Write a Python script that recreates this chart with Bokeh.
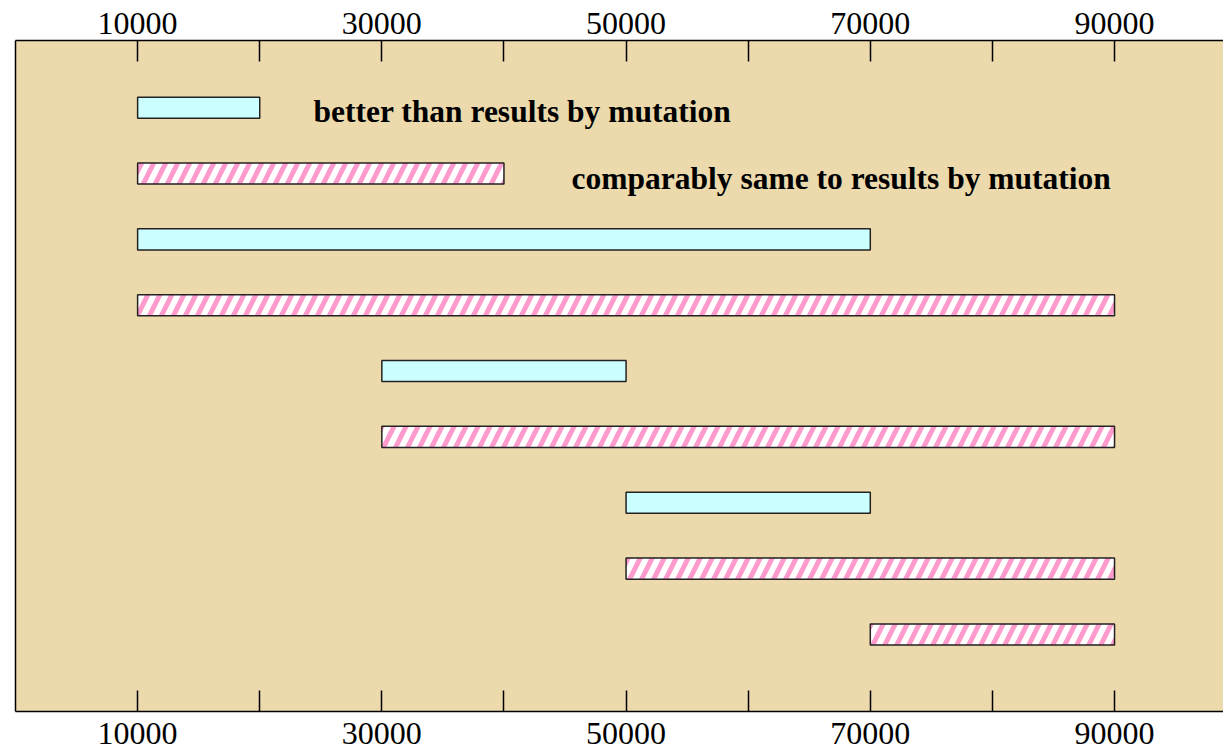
from bokeh.plotting import figure
from bokeh.models import Range1d, LinearAxis, FixedTicker, Label, ColumnDataSource
from bokeh.embed import file_html
from bokeh.resources import INLINE

# Data
rows = [1, 2, 3, 4, 5, 6, 7, 8, 9]
starts = [10000, 10000, 10000, 10000, 30000, 30000, 50000, 50000, 70000]
ends = [20000, 40000, 70000, 90000, 50000, 90000, 70000, 90000, 90000]
kinds = ["better", "same", "better", "same", "better", "same", "better", "same", "same"]
major_ticks = [10000, 30000, 50000, 70000, 90000]
minor_ticks = [20000, 40000, 60000, 80000]
label_better = "better than results by mutation"
label_same = "comparably same to results by mutation"

FONT = "Liberation Serif"

p = figure(width=1223, height=749, output_backend="svg", toolbar_location=None,
           x_range=Range1d(0, 98924), y_range=Range1d(10.17, -0.02),
           x_axis_location=None, y_axis_location=None,
           min_border_left=15, min_border_right=0, min_border_top=40, min_border_bottom=38)
p.background_fill_color = "#ECDAAC"
p.border_fill_color = "white"
p.outline_line_color = None
p.grid.visible = False

def make_axis():
    ax = LinearAxis(ticker=FixedTicker(ticks=major_ticks, minor_ticks=minor_ticks))
    ax.major_tick_in = 21
    ax.major_tick_out = 0
    ax.minor_tick_in = 21
    ax.minor_tick_out = 0
    ax.major_tick_line_color = "black"
    ax.minor_tick_line_color = "black"
    ax.major_tick_line_width = 1.5
    ax.minor_tick_line_width = 1.5
    ax.axis_line_color = "black"
    ax.axis_line_width = 1.5
    ax.major_label_text_font = FONT
    ax.major_label_text_font_size = "32px"
    ax.major_label_text_color = "black"
    return ax

top = make_axis()
top.major_label_standoff = 7
bottom = make_axis()
bottom.major_label_standoff = 11
p.add_layout(top, "above")
p.add_layout(bottom, "below")

left = LinearAxis(ticker=FixedTicker(ticks=[]))
left.axis_line_color = "black"
left.axis_line_width = 1.5
left.major_tick_line_color = None
left.minor_tick_line_color = None
left.major_label_text_font_size = "0px"
p.add_layout(left, "left")

better = ColumnDataSource(dict(
    y=[r for r, k in zip(rows, kinds) if k == "better"],
    left=[s for s, k in zip(starts, kinds) if k == "better"],
    right=[e for e, k in zip(ends, kinds) if k == "better"],
))
same = ColumnDataSource(dict(
    y=[r for r, k in zip(rows, kinds) if k == "same"],
    left=[s for s, k in zip(starts, kinds) if k == "same"],
    right=[e for e, k in zip(ends, kinds) if k == "same"],
))

p.hbar(y="y", left="left", right="right", height=0.32, source=better,
       fill_color="#CCFFFF", line_color="#222222", line_width=1.5)
p.hbar(y="y", left="left", right="right", height=0.32, source=same,
       fill_color="white", line_color="#222222", line_width=1.5,
       hatch_pattern="/", hatch_color="#FF9ACC", hatch_weight=5, hatch_scale=24)

p.add_layout(Label(x=24410, y=1.06, text=label_better, text_font=FONT,
                   text_font_style="bold", text_font_size="31.5px",
                   text_baseline="middle", text_color="black"))
p.add_layout(Label(x=45535, y=2.08, text=label_same, text_font=FONT,
                   text_font_style="bold", text_font_size="31.5px",
                   text_baseline="middle", text_color="black"))

open("out.html", "w").write(file_html(p, INLINE))
